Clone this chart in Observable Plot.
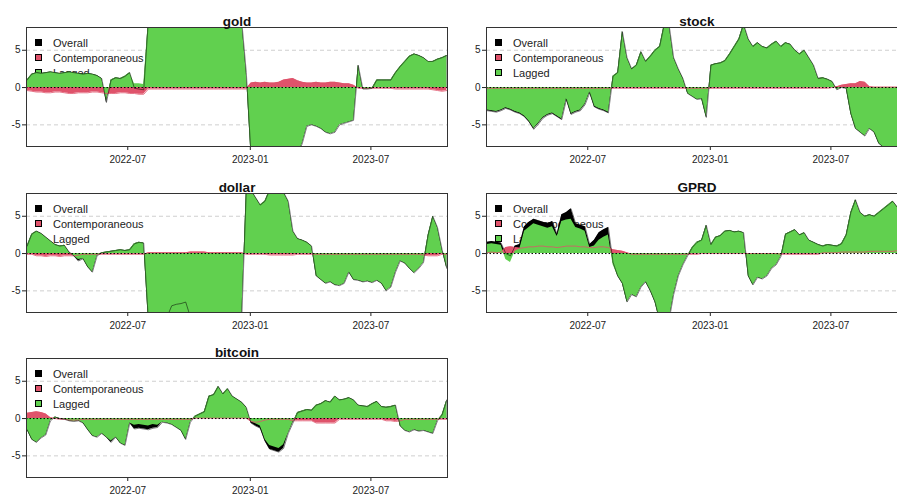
<!DOCTYPE html>
<html><head><meta charset="utf-8">
<script src="https://cdn.jsdelivr.net/npm/d3@7"></script>
<script src="https://cdn.jsdelivr.net/npm/@observablehq/plot@0.6"></script>
<style>
html,body{margin:0;padding:0;background:#fff;overflow:hidden;width:897px;height:497px;}
#root{position:relative;width:897px;height:497px;font-family:"Liberation Sans",Arial,sans-serif;}
.panel{position:absolute;width:450px;height:166px;}
.panel svg{position:absolute;left:0;top:0;z-index:1;}
.leg{position:absolute;left:0;top:0;z-index:0;font-size:11px;color:#222;}
.row{position:absolute;left:35px;height:14px;white-space:nowrap;}
.sq{position:absolute;left:0;top:3px;width:7px;height:7px;border:1px solid #000;box-sizing:border-box;}
.lbl{position:absolute;left:18px;top:0;line-height:14px;}
</style></head>
<body><div id="root"></div>
<script>
const titles = ["gold","stock","dollar","GPRD","bitcoin"];
const legendLabels = ["Overall","Contemporaneous","Lagged"];
const xTicks = ["2022-07-01","2023-01-01","2023-07-01"];
const yTicks = [-5,0,5];
const dates = d3.utcMonday.range(new Date("2022-01-31"), new Date("2023-10-24"));

const goldLag = [1.0,1.8,2.0,1.9,2.0,2.1,2.0,1.9,2.0,2.1,
 2.0,1.9,1.8,1.9,1.8,1.6,1.2,-1.8,1.0,1.3,
 1.2,1.5,2.0,0.5,0.5,0.4,9,9,9,9,
 9,9,9,9,9,9,9,9,9,9,
 9,9,9,9,9,9,9,2.0,-9,-9,
 -9,-9,-9,-9,-9,-9,-9,-9,-9,-7.5,
 -5.2,-5.0,-5.2,-5.5,-6.0,-6.2,-6.0,-5.0,-4.8,-4.6,
 -4.4,3.0,-0.2,-0.2,-0.1,1.0,1.0,1.0,1.0,2.0,
 2.8,3.5,4.2,4.5,4.3,4.0,3.5,3.5,3.8,4.0,4.3];
const goldCtc = [-0.4,-0.5,-0.6,-0.6,-0.7,-0.7,-0.6,-0.6,-0.7,-0.8,
 -0.8,-0.7,-0.7,-0.7,-0.6,-0.6,-0.7,-0.8,-0.8,-0.8,
 -0.7,-0.7,-0.8,-0.8,-0.9,-0.9,-0.2,-0.2,-0.2,-0.2,
 -0.2,-0.2,-0.2,-0.2,-0.2,-0.2,-0.2,-0.2,-0.2,-0.2,
 -0.2,-0.2,-0.2,-0.2,-0.2,-0.2,-0.2,-0.2,0.6,0.7,
 0.6,0.7,0.6,0.6,0.7,1.0,1.1,1.2,0.9,0.7,
 0.6,0.6,0.7,0.6,0.6,0.7,0.7,0.6,0.5,0.5,
 0.3,-0.1,-0.1,-0.1,-0.1,-0.1,-0.1,-0.1,-0.1,-0.2,
 -0.2,-0.2,-0.2,-0.2,-0.2,-0.2,-0.2,-0.3,-0.4,-0.5,-0.4];
const goldAll = [1.0,1.8,2.0,1.9,2.0,2.1,2.0,1.9,2.0,2.1,
 2.0,1.9,1.8,1.9,1.8,1.6,1.2,-2.0,1.0,1.3,
 1.2,1.5,2.0,-0.1,-0.2,-0.3,9,9,9,9,
 9,9,9,9,9,9,9,9,9,9,
 9,9,9,9,9,9,9,2.0,-9,-9,
 -9,-9,-9,-9,-9,-9,-9,-9,-9,-7.5,
 -5.2,-5.0,-5.2,-5.5,-6.0,-6.2,-6.0,-5.0,-4.8,-4.6,
 -4.4,3.0,-0.2,-0.2,-0.1,1.0,1.0,1.0,1.0,2.0,
 2.8,3.5,4.2,4.5,4.3,4.0,3.5,3.5,3.8,4.0,4.3];

const stockLag = [-3.0,-3.1,-3.2,-3.0,-2.7,-2.9,-3.2,-3.4,-3.8,-4.5,
 -5.5,-4.8,-4.0,-3.6,-3.4,-3.8,-4.2,-1.5,-3.5,-3.2,
 -3.0,-2.2,-0.6,-2.5,-2.8,-3.0,-3.3,1.5,2.0,7.5,
 4.0,2.5,3.0,4.8,3.5,4.2,5.0,5.5,8.5,8.5,
 4.0,2.5,1.2,-0.8,-1.2,-1.6,-1.5,-4.0,3.0,3.2,
 3.3,3.6,4.5,5.5,6.5,8.5,6.5,5.5,6.0,5.5,
 5.3,5.8,6.2,5.5,6.0,5.8,5.0,4.5,5.0,4.0,
 3.0,1.2,1.3,1.1,0.8,-0.3,0.0,-0.1,-3.5,-5.5,
 -6.0,-6.5,-5.5,-6.0,-7.5,-8.0,-8.5,-8.5,-8.5,-8.5,-8.5];
const stockCtc = [-0.1,-0.1,-0.1,-0.1,-0.1,-0.1,-0.1,-0.1,-0.1,-0.1,
 -0.1,-0.1,-0.1,-0.1,-0.1,-0.1,-0.1,-0.1,-0.1,-0.1,
 -0.1,-0.1,-0.1,-0.1,-0.1,-0.1,-0.1,-0.1,-0.1,-0.1,
 -0.1,-0.1,-0.1,-0.1,-0.1,-0.1,-0.1,-0.1,-0.1,-0.1,
 -0.1,-0.1,-0.1,-0.1,-0.1,-0.1,-0.1,-0.1,-0.1,-0.1,
 -0.1,-0.1,-0.1,-0.1,-0.1,-0.1,-0.1,-0.1,-0.1,-0.1,
 -0.1,-0.1,-0.1,-0.1,-0.1,-0.1,-0.1,-0.1,-0.1,-0.1,
 -0.1,-0.1,-0.1,-0.1,0.0,0.1,0.3,0.4,0.5,0.5,
 0.8,0.7,0.1,0.05,0.05,0.05,0.05,0.05,0.05,0.05,0.05];
const stockAll = [-3.1,-3.2,-3.3,-3.1,-2.8,-3.0,-3.3,-3.5,-3.9,-4.6,
 -5.6,-4.9,-4.1,-3.7,-3.5,-3.9,-4.3,-1.6,-3.6,-3.3,
 -3.1,-2.3,-0.7,-2.6,-2.9,-3.1,-3.4,1.5,2.0,7.5,
 4.0,2.5,3.0,4.8,3.5,4.2,5.0,5.5,8.5,8.5,
 4.0,2.5,1.2,-0.8,-1.2,-1.6,-1.5,-4.0,3.0,3.2,
 3.3,3.6,4.5,5.5,6.5,8.5,6.5,5.5,6.0,5.5,
 5.3,5.8,6.2,5.5,6.0,5.8,5.0,4.5,5.0,4.0,
 3.0,1.2,1.3,1.1,0.8,-0.3,0.0,-0.1,-3.5,-5.5,
 -6.0,-6.5,-5.5,-6.0,-7.5,-8.0,-8.5,-8.5,-8.5,-8.5,-8.5];

const dollarLag = [1.0,2.6,3.0,2.7,2.2,1.7,1.2,1.0,1.1,0.2,
 -0.3,-0.8,-0.7,-1.8,-2.5,-0.3,0.1,0.2,0.3,0.4,
 0.5,0.4,0.5,1.3,1.5,1.4,-9,-9,-9,-9,
 -9,-9,-9,-9,-9,-9,-9,-9,-9,-9,
 -9,-9,-9,-9,-9,-9,-9,8.5,8.5,7.5,
 6.5,7.0,8.5,8.5,8.5,8.2,7.0,3.0,2.0,1.8,
 1.5,1.0,-3.0,-3.5,-4.0,-3.8,-4.2,-4.3,-4.0,-2.5,
 -3.5,-3.6,-3.8,-3.7,-3.9,-3.6,-4.0,-5.0,-4.5,-2.5,
 -1.0,-1.3,-2.0,-2.6,-2.0,-1.2,2.5,5.0,3.5,0.5,-2.0];
const dollarCtc = [-0.1,-0.1,-0.3,-0.3,-0.4,-0.3,-0.3,-0.4,-0.3,-0.3,
 -0.3,-0.2,-0.1,-0.1,-0.1,-0.1,-0.1,-0.1,-0.1,-0.1,
 -0.1,-0.1,-0.1,-0.1,-0.1,-0.1,0.1,0.1,0.1,0.1,
 0.1,0.1,0.1,0.1,0.1,0.2,0.2,0.2,0.2,0.1,
 0.1,0.1,0.1,0.1,0.1,0.1,0.1,-0.1,-0.1,-0.1,
 -0.1,-0.1,-0.2,-0.2,-0.2,-0.2,-0.2,-0.2,-0.1,-0.1,
 -0.1,-0.1,-0.1,-0.1,-0.1,-0.1,-0.1,-0.1,-0.1,-0.1,
 -0.1,-0.1,-0.1,-0.1,-0.1,-0.1,-0.1,-0.1,-0.1,-0.1,
 -0.1,-0.1,-0.1,-0.1,-0.1,-0.2,-0.3,-0.3,-0.3,-0.1,-0.1];
const dollarAll = [1.0,2.6,3.0,2.7,2.2,1.7,1.2,1.0,1.1,0.2,
 -0.3,-1.0,-0.7,-1.8,-2.5,-0.3,0.1,0.2,0.3,0.4,
 0.5,0.4,0.5,1.3,1.5,1.4,-9,-9,-9,-9,
 -8.5,-7.0,-6.8,-6.7,-6.5,-8.5,-9,-9,-9,-9,
 -9,-9,-9,-9,-9,-9,-9,8.5,8.5,7.5,
 6.5,7.0,8.5,8.5,8.5,8.2,7.0,3.0,2.0,1.8,
 1.5,1.0,-3.0,-3.5,-4.0,-3.8,-4.2,-4.3,-4.0,-2.5,
 -3.5,-3.6,-3.8,-3.7,-3.9,-3.6,-4.0,-5.0,-4.5,-2.5,
 -1.0,-1.3,-2.0,-2.6,-2.0,-1.2,2.5,5.0,3.5,0.5,-2.0];

const gprdLag = [1.2,1.3,1.2,1.1,-0.8,-1.2,0.3,0.6,3.0,3.5,
 4.0,3.8,3.6,3.4,3.6,2.3,4.3,4.5,4.6,3.5,
 3.3,3.0,0.8,1.0,1.8,2.2,2.5,-1.5,-3.0,-4.0,
 -6.5,-5.5,-5.8,-4.5,-3.8,-5.0,-6.5,-9,-9,-9,
 -5.5,-3.0,-1.5,-0.3,0.8,1.5,1.8,3.8,1.2,2.2,
 2.4,3.0,3.1,2.9,3.0,2.8,-3.0,-4.2,-3.2,-3.4,
 -3.0,-2.0,-1.5,-0.4,2.6,2.9,3.2,2.5,2.8,1.8,
 1.5,1.2,1.0,1.2,1.1,1.0,1.3,2.5,5.5,7.2,
 5.5,5.0,5.2,5.0,5.5,6.0,6.5,7.0,6.2,5.0,5.0];
const gprdCtc = [0.1,0.2,0.1,0.2,0.8,0.9,0.8,0.7,0.8,0.9,
 0.9,1.0,1.0,0.9,0.9,0.8,0.9,1.0,1.0,1.0,
 0.9,0.9,0.8,0.8,0.9,0.9,0.8,0.5,0.4,0.3,
 0.1,-0.1,-0.1,-0.1,-0.1,-0.1,-0.1,-0.1,-0.1,-0.1,
 -0.1,-0.1,-0.1,-0.1,-0.1,-0.1,0.0,0.0,0.0,0.0,
 0.0,0.0,0.0,0.0,0.0,0.0,0.0,0.0,0.0,0.0,
 0.0,0.0,0.0,-0.1,-0.1,-0.1,-0.1,-0.1,-0.1,-0.1,
 -0.1,-0.1,0.1,0.1,0.1,0.1,0.2,0.2,0.2,0.2,
 0.2,0.2,0.3,0.3,0.3,0.3,0.3,0.3,0.4,0.4,0.4];
const gprdAll = [1.5,1.6,1.5,1.4,0.0,-0.3,1.0,1.2,3.6,4.2,
 4.6,4.4,4.2,4.0,4.3,2.6,5.2,5.5,6.0,4.0,
 3.8,3.6,1.2,1.8,2.8,3.2,3.5,-1.2,-3.0,-4.0,
 -6.5,-5.5,-5.8,-4.5,-3.8,-5.0,-6.5,-9,-9,-9,
 -5.5,-3.0,-1.5,-0.3,0.8,1.5,1.8,3.8,1.2,2.2,
 2.4,3.0,3.1,2.9,3.0,2.8,-3.0,-4.2,-3.2,-3.4,
 -3.0,-2.0,-1.5,-0.4,2.6,2.9,3.2,2.5,2.8,1.8,
 1.5,1.2,1.0,1.2,1.1,1.0,1.3,2.5,5.5,7.2,
 5.5,5.0,5.2,5.0,5.5,6.0,6.5,7.0,6.2,5.0,5.0];

const bitcoinLag = [-1.5,-2.8,-3.2,-2.6,-2.2,-0.3,0.2,0.0,-0.1,-0.3,
 -0.4,-0.3,-0.6,-1.5,-2.3,-2.5,-2.0,-2.5,-3.0,-2.5,
 -3.3,-3.6,-0.6,-0.9,-0.8,-0.9,-1.0,-0.8,-0.9,-0.5,
 -0.6,-0.8,-1.2,-1.6,-2.8,-0.5,0.3,0.6,0.9,3.0,
 3.2,4.3,3.3,4.0,3.0,2.6,2.2,1.5,-0.4,-0.7,
 -1.0,-2.8,-3.6,-3.8,-4.0,-3.5,-2.0,-0.5,0.8,1.0,
 1.2,1.1,1.8,2.0,2.4,2.2,3.0,2.5,2.6,2.8,
 2.5,1.8,1.7,1.6,2.0,2.3,1.6,1.5,1.6,1.8,
 -1.0,-1.6,-1.8,-1.5,-1.7,-1.6,-1.8,-2.0,-0.3,0.5,2.5];
const bitcoinCtc = [0.7,0.8,0.9,0.8,0.6,0.1,0.0,-0.1,-0.1,-0.2,
 -0.2,-0.2,-0.1,-0.1,-0.1,-0.1,-0.1,-0.1,-0.1,-0.1,
 -0.1,-0.1,-0.1,-0.1,-0.1,-0.1,-0.1,-0.1,-0.1,-0.1,
 -0.1,-0.1,-0.1,-0.1,-0.1,-0.1,0.05,0.05,0.05,0.05,
 0.05,0.05,0.05,0.05,0.05,0.05,0.05,0.05,-0.4,-0.5,
 -0.4,-0.2,-0.1,-0.1,-0.1,-0.1,-0.1,-0.3,-0.3,-0.3,
 -0.3,-0.3,-0.6,-0.6,-0.6,-0.6,-0.6,-0.1,-0.1,-0.1,
 -0.1,-0.1,-0.1,-0.1,-0.1,-0.1,-0.1,-0.3,-0.3,-0.4,
 -0.3,-0.1,-0.1,-0.1,-0.1,-0.1,-0.1,-0.1,-0.1,-0.1,-0.1];
const bitcoinAll = [-1.5,-2.8,-3.2,-2.6,-2.2,-0.3,0.2,0.0,-0.1,-0.3,
 -0.4,-0.3,-0.6,-1.5,-2.3,-2.5,-2.0,-2.5,-3.2,-2.5,
 -3.3,-3.6,-0.6,-1.4,-1.3,-1.4,-1.5,-1.3,-1.2,-0.5,
 -0.6,-0.8,-1.2,-1.6,-2.8,-0.5,0.3,0.6,0.9,3.0,
 3.2,4.3,3.3,4.0,3.0,2.6,2.2,1.5,-0.6,-1.0,
 -1.3,-3.0,-4.1,-4.3,-4.5,-4.0,-2.0,-0.6,0.8,1.0,
 1.2,1.1,1.8,2.0,2.4,2.2,3.0,2.5,2.6,2.8,
 2.5,1.8,1.7,1.6,2.0,2.3,1.6,1.5,1.6,1.8,
 -1.0,-1.6,-1.8,-1.5,-1.7,-1.6,-1.8,-2.0,-0.3,0.5,2.5];

const series = [
  [goldLag, goldCtc, goldAll],
  [stockLag, stockCtc, stockAll],
  [dollarLag, dollarCtc, dollarAll],
  [gprdLag, gprdCtc, gprdAll],
  [bitcoinLag, bitcoinCtc, bitcoinAll]
];
const colors = ["#000000", "#DF536B", "#61D04F"];
const positions = [[0,0],[460,0],[0,166],[460,166],[0,331]];

const root = document.getElementById("root");
titles.forEach((name, k) => {
  const [lag, ctc, all] = series[k];
  const data = dates.map((d, i) => ({date: d, lag: lag[i], ctc: ctc[i], all: all[i]}));
  const div = document.createElement("div");
  div.className = "panel";
  div.style.left = positions[k][0] + "px";
  div.style.top = positions[k][1] + "px";
  const leg = document.createElement("div");
  leg.className = "leg";
  legendLabels.forEach((lab, j) => {
    const r = document.createElement("div");
    r.className = "row";
    r.style.top = (36 + 15 * j) + "px";
    const sq = document.createElement("div");
    sq.className = "sq";
    sq.style.background = colors[j];
    const t = document.createElement("span");
    t.className = "lbl";
    t.textContent = lab;
    r.appendChild(sq); r.appendChild(t);
    leg.appendChild(r);
  });
  div.appendChild(leg);
  const chart = Plot.plot({
    width: 450, height: 166,
    marginTop: 27, marginBottom: 20, marginLeft: 26, marginRight: 3,
    style: {background: "transparent", fontFamily: "'Liberation Sans', Arial, sans-serif", fontSize: "10px", color: "#222"},
    x: {type: "utc", domain: [new Date("2022-01-30"), new Date("2023-10-24")], ticks: xTicks.map(s => new Date(s)),
        tickFormat: d3.utcFormat("%Y-%m"), label: null, tickSize: 4, tickPadding: 5},
    y: {domain: [-7.9, 8.05], ticks: yTicks, tickFormat: d => String(d), label: null, tickSize: 4, tickPadding: 2},
    marks: [
      Plot.ruleY(yTicks.filter(v => v !== 0), {stroke: "#cfcfcf", strokeDasharray: "4,3"}),
      Plot.areaY(data, {x: "date", y: "all", fill: colors[0], clip: true}),
      Plot.areaY(data, {x: "date", y: "ctc", fill: colors[1], clip: true}),
      Plot.areaY(data, {x: "date", y: "lag", fill: colors[2], clip: true}),
      Plot.lineY(data, {x: "date", y: "ctc", stroke: colors[1], strokeWidth: 0.8, clip: true}),
      Plot.lineY(data, {x: "date", y: "all", stroke: "#000", strokeWidth: 0.6, strokeOpacity: 0.85, clip: true}),
      Plot.ruleY([0], {stroke: "#000", strokeDasharray: "1.5,2", strokeWidth: 1}),
      Plot.frame({stroke: "#333"}),
      Plot.text([name], {frameAnchor: "top", dy: -11, fontWeight: "bold", fontSize: 13.5, fill: "#111"})
    ]
  });
  div.appendChild(chart);
  root.appendChild(div);
});
</script>
</body></html>
